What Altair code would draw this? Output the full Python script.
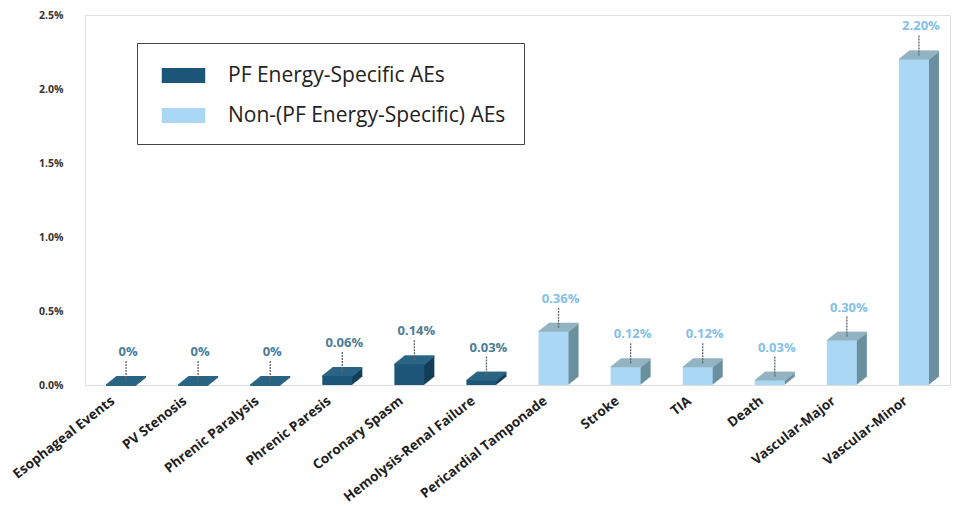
import altair as alt
import pandas as pd

# Adverse-event rates (%) by category
categories = [
    "Esophageal Events", "PV Stenosis", "Phrenic Paralysis", "Phrenic Paresis",
    "Coronary Spasm", "Hemolysis-Renal Failure", "Pericardial Tamponade",
    "Stroke", "TIA", "Death", "Vascular-Major", "Vascular-Minor",
]
rates = [0, 0, 0, 0.06, 0.14, 0.03, 0.36, 0.12, 0.12, 0.03, 0.30, 2.20]
PF = "PF Energy-Specific AEs"
NON_PF = "Non-(PF Energy-Specific) AEs"
groups = [PF] * 6 + [NON_PF] * 6
y_ticks = [0, 0.5, 1.0, 1.5, 2.0, 2.5]

df = pd.DataFrame({"category": categories, "rate": rates, "group": groups})
df["label"] = ["0%" if v == 0 else f"{v:.2f}%" for v in rates]

FONT = "Open Sans"
BAR = 30          # front face width
DEPTH = 10        # extrusion depth in px
SLOPE = 0.8       # vertical rise per px of depth

front = {PF: "#1c5577", NON_PF: "#aad8f4"}
side = {PF: "#123e57", NON_PF: "#6b909e"}
top = {PF: "#2b6585", NON_PF: "#93b3c2"}
label_col = {PF: "#4a7c99", NON_PF: "#82c0ea"}

is_pf = alt.datum.group == PF


def pick(palette):
    return alt.condition(is_pf, alt.value(palette[PF]), alt.value(palette[NON_PF]))


x_enc = alt.X(
    "category:N", sort=categories, title=None,
    scale=alt.Scale(type="band", paddingInner=0.1, paddingOuter=0.05),
    axis=alt.Axis(labelAngle=-38, labelAlign="right", labelBaseline="middle",
                  labelPadding=14, labelOffset=-8, labelFont=FONT,
                  labelFontWeight="bold", labelFontSize=13.5,
                  labelColor="#1e1e1e", ticks=False, domain=False, grid=False,
                  labelLimit=300),
)
y_enc = alt.Y(
    "rate:Q", title=None,
    scale=alt.Scale(domain=[0, 2.5], nice=False),
    axis=alt.Axis(values=y_ticks, labelExpr="format(datum.value, '.1f') + '%'",
                  labelFont=FONT, labelFontWeight="bold", labelFontSize=10.5,
                  labelColor="#333333", ticks=False, domain=False, grid=False,
                  labelPadding=22, minExtent=85, maxExtent=85),
)

base = alt.Chart(df).encode(x=x_enc, y=y_enc)

layers = []
# side/back body of each block: the bar shifted up-right, one pixel at a time
for k in range(DEPTH, 0, -1):
    layers.append(
        base.mark_bar(size=BAR, xOffset=k, yOffset=-SLOPE * k, y2Offset=-SLOPE * k)
        .encode(color=pick(side))
    )
# top face of each block: thin slabs stepped along the depth
for k in range(DEPTH, -1, -1):
    layers.append(
        base.mark_bar(size=BAR, xOffset=k, yOffset=-SLOPE * k - 1,
                      y2Offset=-SLOPE * k + 1)
        .encode(y2="rate:Q", color=pick(top))
    )
# front face, carrying the legend
layers.append(
    base.mark_bar(size=BAR).encode(
        color=alt.Color(
            "group:N",
            scale=alt.Scale(domain=[PF, NON_PF], range=[front[PF], front[NON_PF]]),
            legend=alt.Legend(
                title=None, orient="none", legendX=52, legendY=28,
                symbolType="M-1.5,-0.52H1.5V0.52H-1.5Z", symbolSize=841,
                symbolStrokeWidth=0, symbolOpacity=1, symbolOffset=14,
                labelOffset=30, labelFont=FONT, labelFontSize=21,
                labelColor="#222222", labelLimit=400, rowPadding=15,
                padding=18, strokeColor="#444444", fillColor="white",
                cornerRadius=0,
            ),
        )
    )
)
# callout leaders and value labels
layers.append(
    base.mark_rule(xOffset=5, yOffset=-4, y2Offset=-24, strokeWidth=1.3,
                   strokeDash=[2, 1], color="#5c666c")
    .encode(y2="rate:Q")
)
layers.append(
    base.mark_text(dx=7, dy=-33, font=FONT, fontWeight="bold", fontSize=13)
    .encode(text="label:N", color=pick(label_col))
)

chart = (
    alt.layer(*layers)
    .properties(width=865, height=370, padding={"left": 0, "top": 10, "right": 5, "bottom": 5})
    .configure_view(stroke="transparent", strokeWidth=0)
    .configure_axis(grid=False)
    .configure(background="white")
)

chart.save("out.html", embed_options={"renderer": "svg", "actions": False})
